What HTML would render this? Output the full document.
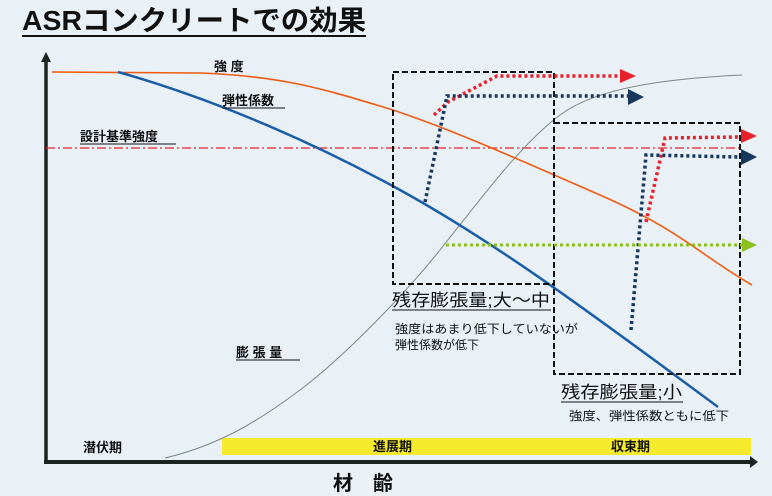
<!DOCTYPE html>
<html><head><meta charset="utf-8"><style>
body{margin:0;background:#e9f0f6;}
svg{display:block;font-family:"Liberation Sans","Noto Sans CJK JP",sans-serif;}
</style></head><body>
<svg width="772" height="496" viewBox="0 0 772 496">
<rect width="772" height="496" fill="#e9f0f6"/>
<text x="22" y="30" font-size="28" fill="#111" font-weight="bold" textLength="344" lengthAdjust="spacingAndGlyphs">ASRコンクリートでの効果</text>
<line x1="22" y1="36" x2="366" y2="36" stroke="#111" stroke-width="2"/>
<rect x="222" y="438" width="529" height="17" fill="#f5ea2c"/>
<line x1="46" y1="462" x2="46" y2="60" stroke="#1b2420" stroke-width="3.5"/>
<polygon points="46,52 41,62 51,62" fill="#1b2420"/>
<line x1="44" y1="462" x2="752" y2="462" stroke="#1b2420" stroke-width="4"/>
<polygon points="758,462 750,456 750,468" fill="#1b2420"/>
<line x1="46" y1="148" x2="742" y2="148" stroke="#e8202a" stroke-width="1.3" stroke-dasharray="9,3,2,3"/>
<path d="M165,458 C220,445 260,420 300,390 S400,300 440,250 S520,145 560,115 S680,78 742,75" fill="none" stroke="#7a8a85" stroke-width="1"/>
<path d="M52,72 L200,73 C280,76 320,88 380,106 S520,160 600,195 S700,255 752,285" fill="none" stroke="#f05a10" stroke-width="1.6"/>
<path d="M118,72 C200,95 300,135 400,190 S600,320 718,407" fill="none" stroke="#1a5ea8" stroke-width="2.5"/>
<rect x="393" y="72" width="161" height="212" fill="none" stroke="#111" stroke-width="2" stroke-dasharray="6,3"/>
<rect x="554" y="123" width="186" height="251" fill="none" stroke="#111" stroke-width="2" stroke-dasharray="6,3"/>
<g fill="none" stroke-width="3.5" stroke-dasharray="3,3">
<path d="M434,115 L448,102 L497,76 L622,76" stroke="#e8202a"/>
<path d="M425,202 L447,96 L630,96" stroke="#17385e"/>
<path d="M646,222 L665,138 L738,137" stroke="#e8202a"/>
<path d="M631,330 L646,155 L738,157" stroke="#17385e"/>
<path d="M446,245 L742,245" stroke="#8cc020" stroke-width="3"/>
</g>
<polygon points="620,69 636,76 620,83" fill="#e8202a"/>
<polygon points="628,89 644,97 628,105" fill="#17385e"/>
<polygon points="741,129 757,136 741,143" fill="#e8202a"/>
<polygon points="741,149 757,157 741,165" fill="#17385e"/>
<polygon points="742,238 757,245 742,252" fill="#8cc020"/>
<g fill="#111" font-size="13" font-weight="bold">
<text x="214" y="71">強 度</text>
<text x="222" y="105">弾性係数</text><line x1="222" y1="108" x2="285" y2="108" stroke="#111"/>
<text x="80" y="141">設計基準強度</text><line x1="80" y1="144" x2="176" y2="144" stroke="#111"/>
<text x="236" y="357">膨 張 量</text><line x1="236" y1="360" x2="300" y2="360" stroke="#111"/>
<text x="392" y="306" font-size="17" font-weight="normal" textLength="158" lengthAdjust="spacingAndGlyphs">残存膨張量;大～中</text><line x1="392" y1="310" x2="551" y2="310" stroke="#111"/>
<text x="395" y="333" font-size="12" font-weight="normal" textLength="183" lengthAdjust="spacingAndGlyphs">強度はあまり低下していないが</text>
<text x="395" y="349" font-size="12" font-weight="normal">弾性係数が低下</text>
<text x="561" y="398" font-size="17" font-weight="normal" textLength="121" lengthAdjust="spacingAndGlyphs">残存膨張量;小</text><line x1="561" y1="402" x2="683" y2="402" stroke="#111"/>
<text x="569" y="420" font-size="12" font-weight="normal" textLength="160" lengthAdjust="spacingAndGlyphs">強度、弾性係数ともに低下</text>
<text x="83" y="452">潜伏期</text>
<text x="373" y="451">進展期</text>
<text x="611" y="451">収束期</text>
<text x="333" y="490" font-size="20">材　齢</text>
</g>
</svg>
</body></html>
